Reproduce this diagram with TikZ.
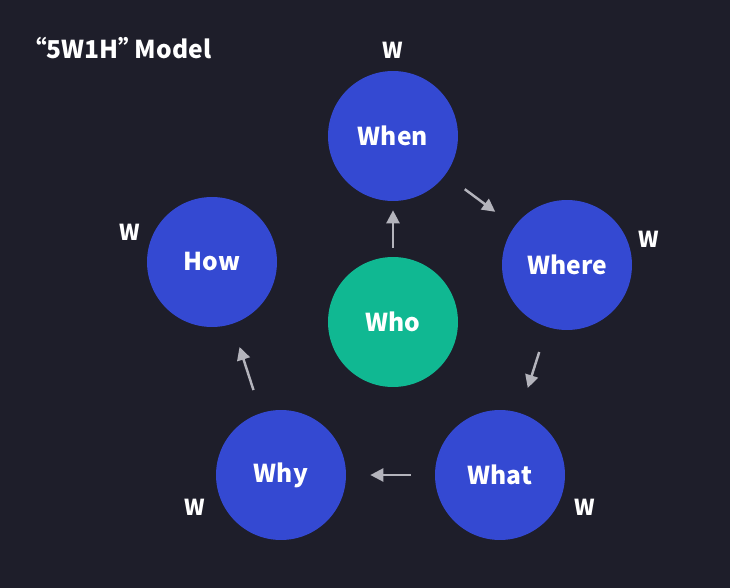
\documentclass[tikz,border=0pt]{standalone}
\usepackage{fontspec}
\setmainfont{Noto Sans CJK SC}
\usepackage{xcolor}
\usetikzlibrary{arrows.meta}

\definecolor{bgdark}{HTML}{1E1E2A}
\definecolor{wblue}{HTML}{3449D2}
\definecolor{whogreen}{HTML}{10B892}
\definecolor{arrowgray}{HTML}{B4B4BC}

\begin{document}
\begin{tikzpicture}[
x=0.02cm, y=-0.02cm,
ball/.style={circle, minimum size=2.6cm, inner sep=0pt, fill=wblue, text=white, font=\fontsize{14}{16}\selectfont\bfseries},
wlabel/.style={text=white, font=\fontsize{12.5}{14}\selectfont\bfseries},
arrow/.style={-{Triangle[length=2.6mm, width=2.6mm]}, line width=1.4pt, arrowgray, shorten <=0.48cm, shorten >=0.48cm}
]
\fill[bgdark] (0,0) rectangle (730,588);
\useasboundingbox (0,0) rectangle (730,588);
\node[text=white, font=\fontsize{14}{16}\selectfont\bfseries, anchor=west, inner sep=0pt] (title) at (22,48) {“5W1H”\kern-0.35em Model};
% the five W/H circles and the centre
\node[ball] (when) at (393,136) {When};
\node[ball] (where) at (567,265) {Where};
\node[ball] (what) at (500,475) {What};
\node[ball] (why) at (281,475) {Why};
\node[ball] (how) at (212,262) {How};
\node[ball, fill=whogreen] (who) at (393,322) {Who};
% small W marks
\node[wlabel] (wWhen) at (393,50) {W};
\node[wlabel] (wWhere) at (649,239) {W};
\node[wlabel] (wWhat) at (585,507) {W};
\node[wlabel] (wWhy) at (195,507) {W};
\node[wlabel] (wHow) at (130,232) {W};
% arrows
\draw[arrow, shorten <=0.18cm, shorten >=0.18cm] (who) -- (when);
\draw[arrow] (when) -- (where);
\draw[arrow, shorten <=0.52cm, shorten >=0.52cm] (where) -- (what);
\draw[arrow] (what) -- (why);
\draw[arrow] (why) -- (how);
\end{tikzpicture}
\end{document}
